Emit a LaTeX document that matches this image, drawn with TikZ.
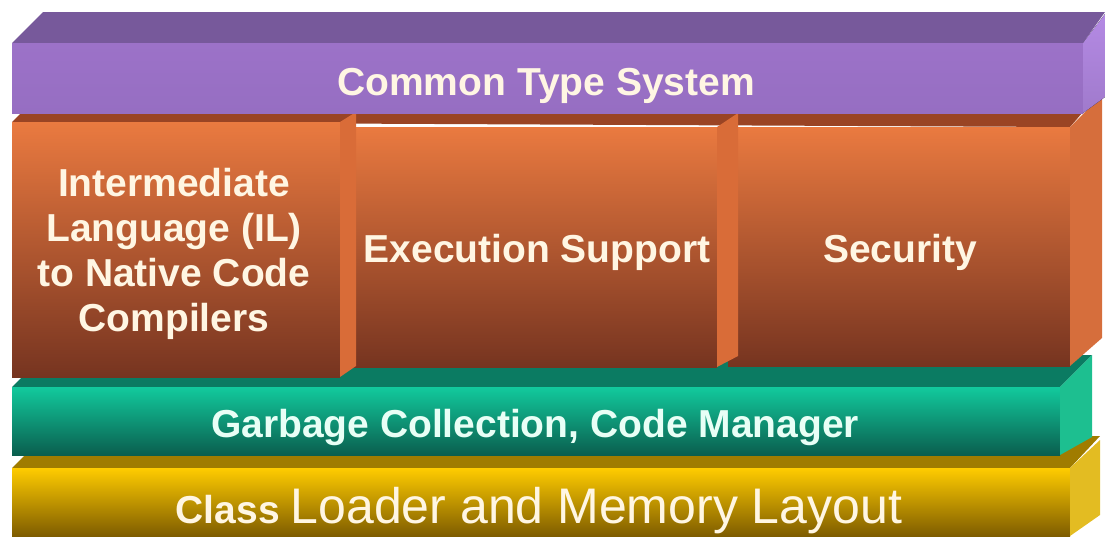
\documentclass[tikz,border=0pt]{standalone}
\usepackage{fontspec}
\setmainfont{Liberation Sans}
\definecolor{pTop}{HTML}{77599B}
\definecolor{pFrontT}{HTML}{9C72C8}
\definecolor{pFrontB}{HTML}{966EC2}
\definecolor{pSideT}{HTML}{B48AE4}
\definecolor{pSideB}{HTML}{A07ACC}
\definecolor{oBand}{HTML}{9A4424}
\definecolor{oFrontT}{HTML}{EA7A40}
\definecolor{oFrontB}{HTML}{763420}
\definecolor{oStrip}{HTML}{D96C38}
\definecolor{oSide}{HTML}{D66E3C}
\definecolor{gTop}{HTML}{0B7B62}
\definecolor{gFrontT}{HTML}{12CA9D}
\definecolor{gFrontB}{HTML}{0A5E4E}
\definecolor{gSide}{HTML}{1DBF90}
\definecolor{yTop}{HTML}{A07C00}
\definecolor{yFrontT}{HTML}{FFCC00}
\definecolor{yFrontB}{HTML}{7E5C00}
\definecolor{ySide}{HTML}{E3BC22}
\definecolor{txt}{HTML}{FFF6E3}
\definecolor{gtxt}{HTML}{E8FFF6}
\begin{document}
\begin{tikzpicture}[x=1pt,y=-1pt,
  lbl/.style={text=txt, font=\bfseries\fontsize{39}{45}\selectfont, align=center, inner sep=0pt}]
\useasboundingbox (0,0) rectangle (1105,536);
% ---- gold layer
\fill[yTop] (12,468) -- (44,436) -- (1100,436) -- (1070,468) -- cycle;
\fill[top color=yFrontT, bottom color=yFrontB] (12,468) rectangle (1070,536);
\fill[ySide] (1070,468) -- (1100,440) -- (1100,515) -- (1070,536) -- cycle;
% ---- green layer
\fill[gTop] (12,387) -- (44,355) -- (1092,355) -- (1060,387) -- cycle;
\fill[top color=gFrontT, bottom color=gFrontB] (12,387) rectangle (1060,455);
\fill[gSide] (1060,387) -- (1092,355) -- (1092,437) -- (1060,455) -- cycle;
% ---- orange layer
\fill[oBand] (12,122) -- (44,90) -- (1102,90) -- (1070,127) -- cycle;
\fill[top color=oFrontT, bottom color=oFrontB] (728,127) rectangle (1070,366);
\fill[oSide] (1070,127) -- (1102,95) -- (1102,338) -- (1070,366) -- cycle;
\fill[top color=oFrontT, bottom color=oFrontB] (352,127) rectangle (717,367);
\fill[oStrip] (717,127) -- (738,113) -- (738,356) -- (717,367) -- cycle;
\fill[top color=oFrontT, bottom color=oFrontB] (12,122) rectangle (340,377);
\fill[oStrip] (340,122) -- (356,112) -- (356,366) -- (340,377) -- cycle;
% ---- purple layer
\fill[pTop] (12,43) -- (43,12) -- (1105,12) -- (1083,43) -- cycle;
\fill[top color=pFrontT, bottom color=pFrontB] (12,43) rectangle (1083,113);
\fill[top color=pSideT, bottom color=pSideB] (1083,43) -- (1105,14) -- (1105,97) -- (1083,113) -- cycle;
% ---- texts
\node[lbl, anchor=base] (cts) at (546,95) {Common Type System};
\node[lbl, anchor=center] (il) at (174,254) {Intermediate\\Language (IL)\\to Native Code\\Compilers};
\node[lbl, anchor=base] (exec) at (537,262) {Execution Support};
\node[lbl, anchor=base] (sec) at (900,262) {Security};
\node[lbl, anchor=base, text=gtxt] (gc) at (535,437) {Garbage Collection, Code Manager};
\node[lbl, anchor=base] (cl) at (539,523) {Class {\mdseries\fontsize{50}{54}\selectfont Loader and Memory Layout}};
\end{tikzpicture}
\end{document}
